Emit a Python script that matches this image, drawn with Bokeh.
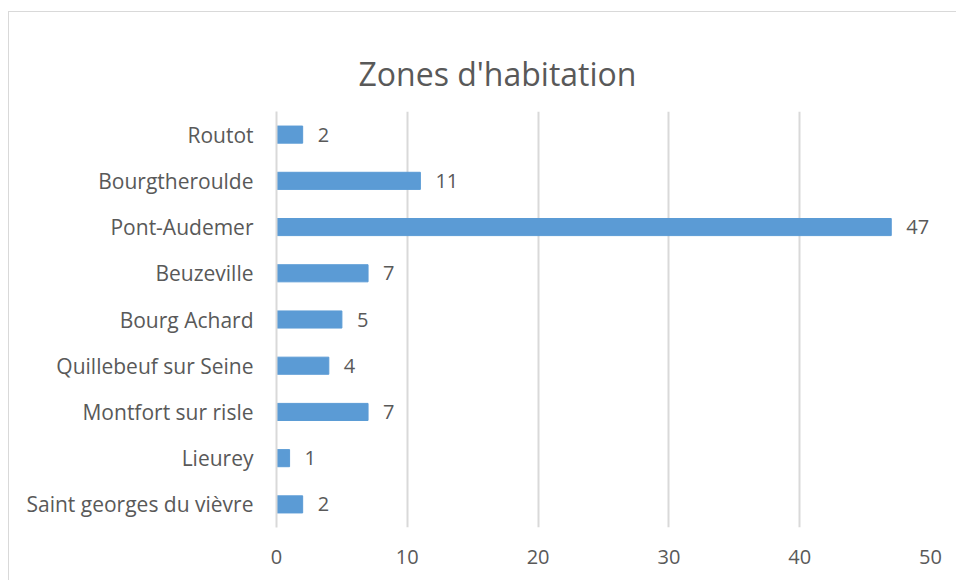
from bokeh.plotting import figure
from bokeh.models import ColumnDataSource, FactorRange, Range1d, Title
from bokeh.core.properties import value
from bokeh.embed import file_html
from bokeh.resources import INLINE

categories = ["Saint georges du vièvre", "Lieurey", "Montfort sur risle",
              "Quillebeuf sur Seine", "Bourg Achard", "Beuzeville",
              "Pont-Audemer", "Bourgtheroulde", "Routot"]
counts = [2, 1, 7, 4, 5, 7, 47, 11, 2]
x_ticks = [0, 10, 20, 30, 40, 50]
title_text = "Zones d'habitation"

FONT = "Open Sans"
TXT = "#595959"
BAR = "#5B9BD5"
GRID = "#D9D9D9"

src = ColumnDataSource(dict(cat=categories, n=counts, lab=[str(c) for c in counts]))

p = figure(width=948, height=569, output_backend="svg", toolbar_location=None,
           y_range=FactorRange(*categories), x_range=Range1d(0, 50),
           min_border_left=267, min_border_right=27, min_border_top=99,
           min_border_bottom=54)
p.styles = {"border-left": f"1px solid {GRID}", "border-top": f"1px solid {GRID}",
            "margin-top": "11px", "margin-left": "8px"}

p.hbar(y="cat", right="n", left=0, height=0.37, source=src, color=BAR)
p.text(x="n", y="cat", text="lab", source=src, x_offset=15, text_baseline="middle",
       text_align="left", text_color=TXT, text_font=value(FONT), text_font_size="20px")

p.title = Title(text=title_text, align="left", offset=82, standoff=33,
                text_font=FONT, text_font_size="32px", text_font_style="normal",
                text_color=TXT)

p.outline_line_color = None
p.ygrid.grid_line_color = None
p.xgrid.grid_line_color = GRID
p.xgrid.grid_line_width = 2
p.xaxis.ticker = x_ticks
p.xaxis.axis_line_color = None
p.xaxis.major_tick_line_color = None
p.xaxis.minor_tick_line_color = None
p.xaxis.major_label_standoff = 16
p.yaxis.axis_line_color = GRID
p.yaxis.axis_line_width = 2
p.yaxis.major_tick_line_color = None
p.yaxis.minor_tick_line_color = None
p.yaxis.major_label_standoff = 17
for ax in (p.xaxis, p.yaxis):
    ax.major_label_text_font = FONT
    ax.major_label_text_color = TXT
p.xaxis.major_label_text_font_size = "20px"
p.yaxis.major_label_text_font_size = "21px"
p.y_range.range_padding = 0
p.y_range.group_padding = 0

open("out.html", "w").write(file_html(p, INLINE))
